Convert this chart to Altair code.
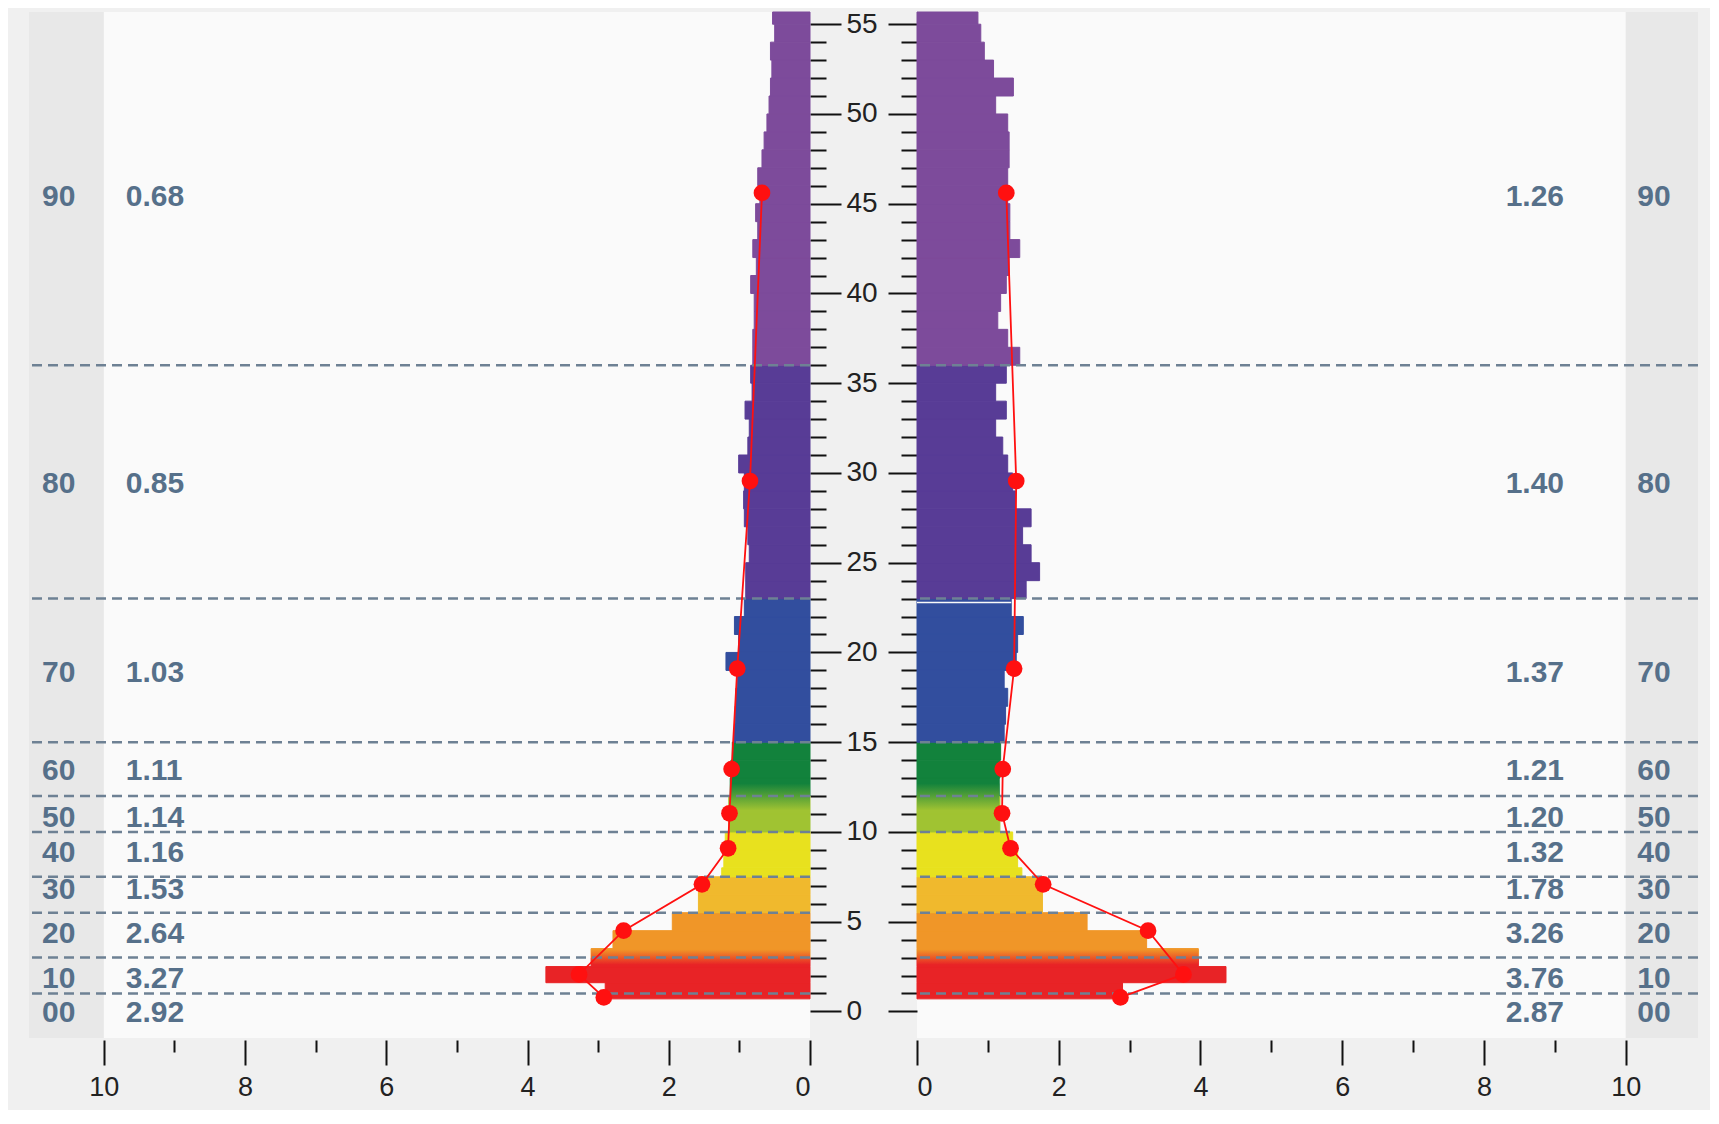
import altair as alt
import pandas as pd

# ---------------- data ----------------
GROUPS = ["90", "80", "70", "60", "50", "40", "30", "20", "10", "00"]
GROUP_COLORS = ["#7d4b9b", "#583c96", "#324e9e", "#12823c", "#a0c332",
                "#e8e11e", "#f0b92d", "#f09628", "#e82326", "#e82326"]
# lower depth bound of every group (same order as GROUPS)
GROUP_BOTTOMS = [36, 23, 15, 12, 10, 7.5, 5.5, 3, 1, 0]
# dashed separators between groups
BOUNDARY_LINES = [36, 23, 15, 12, 10, 7.5, 5.5, 3, 1]

LEFT_MEANS = [0.68, 0.85, 1.03, 1.11, 1.14, 1.16, 1.53, 2.64, 3.27, 2.92]
RIGHT_MEANS = [1.26, 1.40, 1.37, 1.21, 1.20, 1.32, 1.78, 3.26, 3.76, 2.87]
DOT_DEPTH = [45.6, 29.55, 19.1, 13.5, 11.04, 9.09, 7.08, 4.5, 2.06, 0.78]
LABEL_DEPTH = [45.4, 29.4, 18.86, 13.4, 10.8, 8.8, 6.77, 4.32, 1.83, -0.06]

# bar edges (depth), bottom -> top
BAR_EDGES = [0.7, 1.0, 1.6, 2.5, 3.0, 3.5, 4.5, 5.5, 6.5, 7.5, 8, 9,
             10, 11, 12, 13, 14, 15, 16, 17, 18, 19, 20, 21, 22, 23, 24, 25,
             26, 27, 28, 29, 30, 31, 32, 33, 34, 35, 36, 37, 38, 39, 40, 41,
             42, 43, 44, 45, 46, 47, 48, 49, 50, 51, 52, 53, 54, 55, 55.68]

LEFT_VALUES = [2.90, 2.90, 3.74, 3.10, 3.10, 2.79, 1.95, 1.58, 1.58, 1.25, 1.22, 1.20,
               1.15, 1.15, 1.13, 1.12, 1.10,
               1.07, 1.06, 1.05, 1.03, 1.19, 1.01, 1.07, 0.93,
               0.91, 0.91, 0.86, 0.88, 0.93, 0.94, 0.93, 1.01, 0.88, 0.86, 0.92, 0.82, 0.84,
               0.81, 0.81, 0.79, 0.79, 0.84, 0.76, 0.81, 0.74, 0.77, 0.71, 0.74, 0.68,
               0.65, 0.61, 0.58, 0.56, 0.54, 0.56, 0.50, 0.53]

RIGHT_VALUES = [2.90, 2.90, 4.36, 3.97, 3.97, 3.24, 2.40, 1.77, 1.77, 1.48, 1.42, 1.35,
                1.17, 1.17, 1.16, 1.17, 1.18,
                1.23, 1.25, 1.28, 1.23, 1.40, 1.42, 1.50, 1.33,
                1.54, 1.73, 1.61, 1.49, 1.61, 1.39, 1.35, 1.28, 1.21, 1.11, 1.26, 1.11, 1.26,
                1.45, 1.28, 1.14, 1.18, 1.26, 1.30, 1.45, 1.31, 1.31, 1.28, 1.28, 1.30,
                1.30, 1.28, 1.11, 1.36, 1.08, 0.95, 0.90, 0.86]

# colour blends seen across some group boundaries: (bottom, top, colour at top, colour at bottom)
BLENDS = [(11.2, 12.7, "#12823c", "#a0c332"),
          (2.6, 3.45, "#f09628", "#e82326")]

# thin white seam on the right between the 80 and 70 blocks
RIGHT_SEAM = {"depth": [22.78], "x0": [0.0], "x1": [1.33]}

DEPTH_TICKS = list(range(0, 56))
VALUE_TICKS = list(range(0, 11))

# ---------------- styling ----------------
Y_DOMAIN = [-1.48, 55.68]
LABEL_COLOR = "#56708a"
FONT = "Liberation Sans, Arial, sans-serif"
PANEL_W, PANEL_H = 781, 1026


def group_of(bottom):
    for name, lo in zip(GROUPS, GROUP_BOTTOMS):
        if bottom >= lo - 1e-9:
            return name
    return GROUPS[-1]


def bars_frame(values):
    rows = []
    for i, v in enumerate(values):
        b, t = BAR_EDGES[i], BAR_EDGES[i + 1]
        rows.append({"bottom": b, "top": t, "value": v, "group": group_of(b)})
    return pd.DataFrame(rows)


def blend_width(values, lo, hi):
    ws = [v for i, v in enumerate(values) if BAR_EDGES[i] < hi and BAR_EDGES[i + 1] > lo]
    return min(ws)


def panel(values, means, side):
    left = side == "left"
    xmax = 11.06 if left else 11.02
    xscale = alt.Scale(domain=[0, xmax], reverse=left, nice=False, zero=False)
    yscale = alt.Scale(domain=Y_DOMAIN, nice=False, zero=False)
    xaxis = alt.Axis(values=VALUE_TICKS, orient="bottom", domain=False, grid=False,
                     tickSize={"condition": {"test": "datum.value % 2 === 0", "value": 25}, "value": 12},
                     labelExpr="datum.value % 2 === 0 ? datum.label : ''",
                     tickWidth=2, tickColor="#111111", offset=2, labelPadding=9,
                     labelFontSize=27, labelFont=FONT, labelColor="#222222",
                     title=None)
    major = 31 if left else 29
    yaxis = alt.Axis(values=DEPTH_TICKS, orient="right" if left else "left",
                     domain=False, grid=False, labels=left,
                     tickSize={"condition": {"test": "datum.value % 5 === 0", "value": major}, "value": 16},
                     labelExpr="datum.value % 5 === 0 ? datum.label : ''",
                     tickWidth=2, tickColor="#111111", labelPadding=5,
                     labelFontSize=28, labelFont=FONT, labelColor="#222222",
                     labelAlign="left", labelBaseline="middle", title=None)

    def X(field=None, datum=None):
        if datum is not None:
            return alt.XDatum(datum=datum, type="quantitative", scale=xscale, axis=xaxis)
        return alt.X(field, type="quantitative", scale=xscale, axis=xaxis)

    def Y(field):
        return alt.Y(field, type="quantitative", scale=yscale, axis=yaxis)

    cscale = alt.Scale(domain=GROUPS, range=GROUP_COLORS)

    strip = alt.Chart(pd.DataFrame({"k": [0]})).mark_rect(color="#e8e8e8").encode(
        x=X(datum=10), x2=alt.X2Datum(datum=xmax))

    bars = alt.Chart(bars_frame(values)).mark_rect(strokeWidth=1).encode(
        x=X("value"), x2=alt.X2Datum(datum=0),
        y=Y("top"), y2="bottom",
        color=alt.Color("group:N", scale=cscale, legend=None),
        stroke=alt.Stroke("group:N", scale=cscale, legend=None))

    layers = [strip, bars]

    for lo, hi, ctop, cbot in BLENDS:
        w = blend_width(values, lo, hi)
        bdf = pd.DataFrame({"bottom": [lo], "top": [hi], "value": [w]})
        grad = alt.LinearGradient(gradient="linear", x1=0, x2=0, y1=0, y2=1,
                                  stops=[alt.GradientStop(color=ctop, offset=0),
                                         alt.GradientStop(color=cbot, offset=1)])
        layers.append(alt.Chart(bdf).mark_rect(color=grad).encode(
            x=X("value"), x2=alt.X2Datum(datum=0), y=Y("top"), y2="bottom"))

    if not left:
        seam = alt.Chart(pd.DataFrame(RIGHT_SEAM)).mark_rule(color="#fafafa", strokeWidth=1.5).encode(
            x=X("x0"), x2="x1", y=Y("depth"))
        layers.append(seam)

    rules = alt.Chart(pd.DataFrame({"depth": BOUNDARY_LINES})).mark_rule(
        color="#6e8194", strokeWidth=2.5, strokeDash=[10, 6]).encode(y=Y("depth"))

    dots_df = pd.DataFrame({"mean": means, "depth": DOT_DEPTH, "i": range(len(means))})
    line = alt.Chart(dots_df).mark_line(color="#ff1010", strokeWidth=1.8).encode(
        x=X("mean"), y=Y("depth"), order="i:Q")
    pts = alt.Chart(dots_df).mark_circle(color="#ff1010", size=280, opacity=1).encode(
        x=X("mean"), y=Y("depth"))

    lab_df = pd.DataFrame({"name": GROUPS, "txt": [f"{m:.2f}" for m in means],
                           "depth": LABEL_DEPTH})
    tstyle = dict(font=FONT, fontSize=30, fontWeight="bold", color=LABEL_COLOR, baseline="middle")
    if left:
        names = alt.Chart(lab_df).mark_text(align="center", **tstyle).encode(
            x=X(datum=10.64), y=Y("depth"), text="name")
        vals = alt.Chart(lab_df).mark_text(align="left", **tstyle).encode(
            x=X(datum=9.69), y=Y("depth"), text="txt")
    else:
        names = alt.Chart(lab_df).mark_text(align="center", **tstyle).encode(
            x=X(datum=10.40), y=Y("depth"), text="name")
        vals = alt.Chart(lab_df).mark_text(align="right", **tstyle).encode(
            x=X(datum=9.13), y=Y("depth"), text="txt")

    layers += [rules, line, pts, names, vals]
    return alt.layer(*layers).properties(width=PANEL_W, height=PANEL_H)


left_panel = panel(LEFT_VALUES, LEFT_MEANS, "left")
right_panel = panel(RIGHT_VALUES, RIGHT_MEANS, "right")

chart = alt.hconcat(left_panel, right_panel, spacing=107, bounds="flush").properties(
    background="#f0f0f0",
    padding={"left": 19, "top": 2, "right": 10, "bottom": 10},
).configure_view(stroke=None, fill="#fafafa")

chart.save("out.html", embed_options={"renderer": "svg", "actions": False})
